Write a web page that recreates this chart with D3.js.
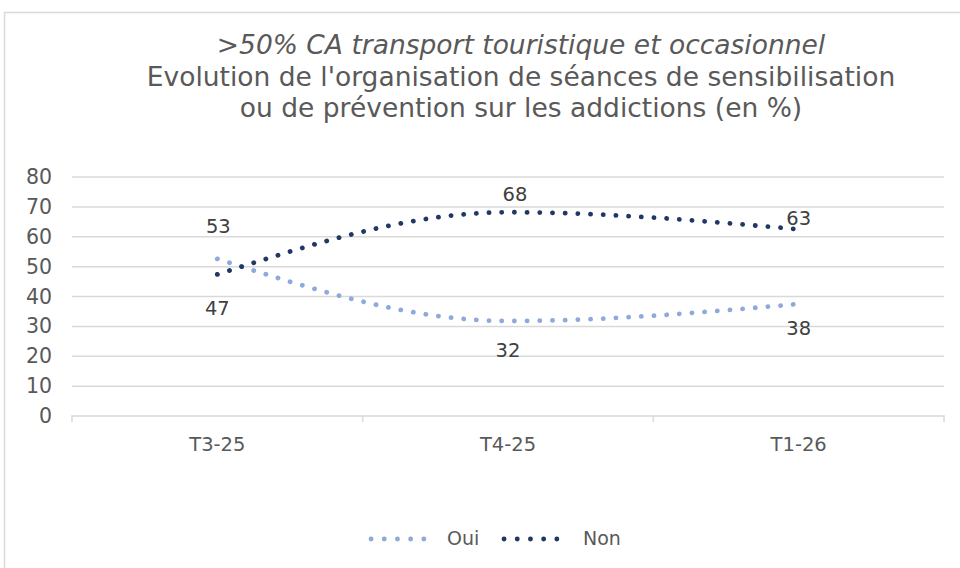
<!DOCTYPE html>
<html>
<head>
<meta charset="utf-8">
<script src="https://cdn.jsdelivr.net/npm/d3@7"></script>
<style>
  body { margin: 0; background: #fff; }
  svg { display: block; font-family: "DejaVu Sans", sans-serif; }
</style>
</head>
<body>
<svg id="chart" width="960" height="568"></svg>
<script>
// data
const categories = ["T3-25", "T4-25", "T1-26"];
const oui = [52.6, 31.8, 37.5];
const non = [47.4, 68.2, 62.5];
const yTicks = [0, 10, 20, 30, 40, 50, 60, 70, 80];
const titleLines = [
  ">50% CA transport touristique et occasionnel",
  "Evolution de l'organisation de séances de sensibilisation",
  "ou de prévention sur les addictions (en %)"
];

const svg = d3.select("#chart");
const font = "DejaVu Sans, sans-serif";
const textCol = "#595959", gridCol = "#d9d9d9";
const ouiCol = "#8eaadb", nonCol = "#1f3864";

// chart frame
svg.append("rect")
  .attr("x", 4.5).attr("y", 12.5)
  .attr("width", 1000).attr("height", 600)
  .attr("fill", "none").attr("stroke", gridCol).attr("stroke-width", 1.5);

// title
svg.selectAll(".title")
  .data(titleLines)
  .join("text")
  .attr("class", "title")
  .attr("x", 521)
  .attr("y", (d, i) => 54 + i * 31.5)
  .attr("text-anchor", "middle")
  .attr("font-size", 26.5)
  .attr("font-style", (d, i) => i == 0 ? "italic" : "normal")
  .attr("fill", textCol)
  .text(d => d);

const x = d3.scaleBand().domain(categories).range([72, 944]);
const y = d3.scaleLinear().domain([0, 80]).range([416, 177]);

// gridlines
svg.append("g")
  .selectAll("line")
  .data(yTicks.slice(1))
  .join("line")
  .attr("x1", 72).attr("x2", 944)
  .attr("y1", d => y(d)).attr("y2", d => y(d))
  .attr("stroke", gridCol).attr("stroke-width", 1.5);

// y axis labels
const yAxis = svg.append("g")
  .attr("transform", "translate(72,0)")
  .call(d3.axisLeft(y).tickValues(yTicks).tickSize(0).tickPadding(20));
yAxis.select(".domain").remove();
yAxis.selectAll("text")
  .attr("font-size", 20.5)
  .attr("font-family", font)
  .attr("fill", textCol);

// x axis
const xAxis = svg.append("g")
  .attr("transform", "translate(0,416)")
  .call(d3.axisBottom(x).tickSize(0).tickPadding(21));
xAxis.select(".domain").attr("stroke", gridCol).attr("stroke-width", 1.5)
  .attr("d", "M72,6V0H944V6");
xAxis.selectAll("text")
  .attr("font-size", 19.5)
  .attr("font-family", font)
  .attr("fill", textCol);
// boundary ticks between categories
xAxis.selectAll(".bound")
  .data(categories.slice(1))
  .join("line")
  .attr("x1", d => x(d)).attr("x2", d => x(d))
  .attr("y1", 0).attr("y2", 6)
  .attr("stroke", gridCol).attr("stroke-width", 1.5);

const line = d3.line()
  .x((d, i) => x(categories[i]) + x.bandwidth() / 2)
  .y(d => y(d))
  .curve(d3.curveMonotoneX);

function drawSeries(vals, col) {
  svg.append("path")
    .datum(vals)
    .attr("d", line)
    .attr("fill", "none")
    .attr("stroke", col)
    .attr("stroke-width", 4.8)
    .attr("stroke-linecap", "round")
    .attr("stroke-dasharray", "0.1 12.6");
}
drawSeries(oui, ouiCol);
drawSeries(non, nonCol);

// data labels: dx, dy offsets from the point
const ouiOff = [[1, -31], [0, 31], [0, 26]];
const nonOff = [[0, 35], [7, -17], [0, -10]];
function labels(vals, offs) {
  svg.append("g")
    .selectAll("text")
    .data(vals)
    .join("text")
    .attr("x", (d, i) => x(categories[i]) + x.bandwidth() / 2 + offs[i][0])
    .attr("y", (d, i) => y(d) + offs[i][1])
    .attr("text-anchor", "middle")
    .attr("dominant-baseline", "middle")
    .attr("font-size", 19.5)
    .attr("fill", "#404040")
    .text(d => Math.round(d));
}
labels(oui, ouiOff);
labels(non, nonOff);

// legend
const legend = [["Oui", ouiCol, 371, 447], ["Non", nonCol, 504, 583]];
legend.forEach(([name, col, lx, tx]) => {
  svg.append("line")
    .attr("x1", lx).attr("x2", lx + 66)
    .attr("y1", 539).attr("y2", 539)
    .attr("stroke", col).attr("stroke-width", 4.8)
    .attr("stroke-linecap", "round")
    .attr("stroke-dasharray", "0.1 13.1");
  svg.append("text")
    .attr("x", tx).attr("y", 539)
    .attr("dominant-baseline", "middle")
    .attr("font-size", 19)
    .attr("fill", textCol)
    .text(name);
});
</script>
</body>
</html>
